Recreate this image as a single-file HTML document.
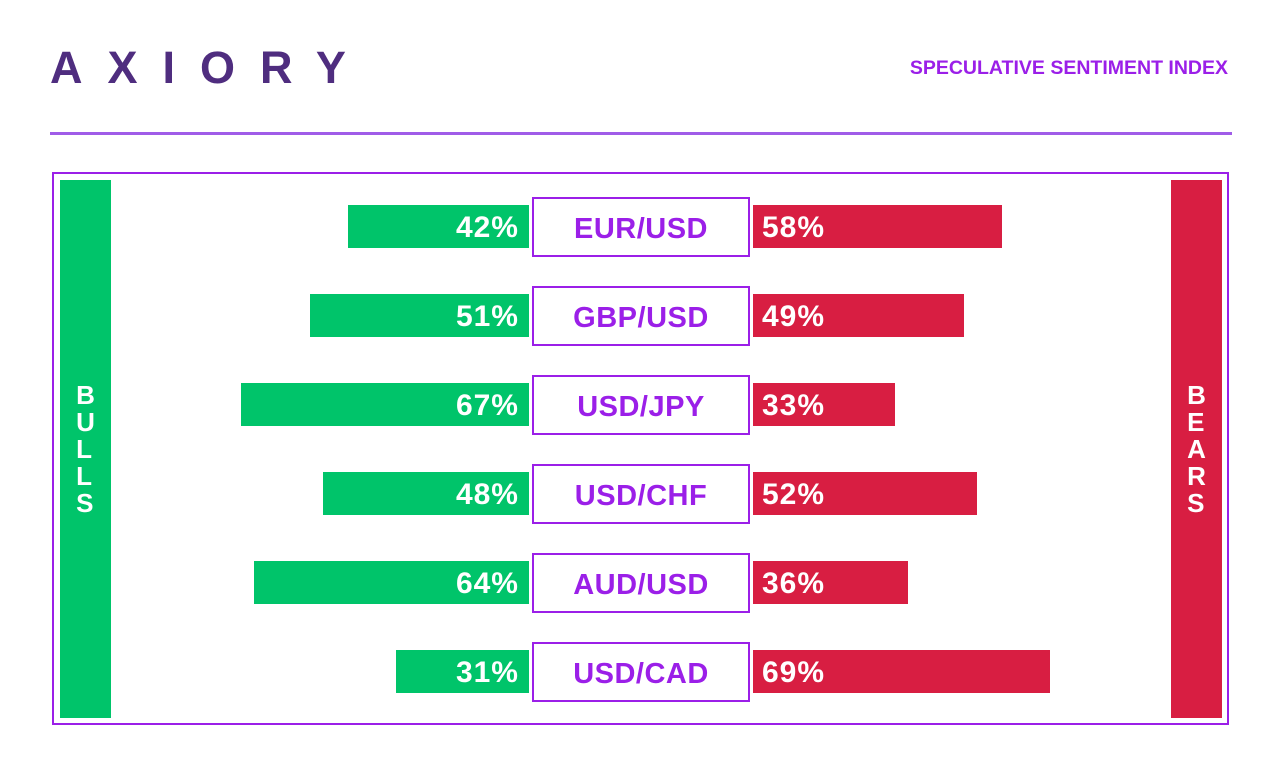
<!DOCTYPE html>
<html><head><meta charset="utf-8"><style>
body{margin:0;width:1280px;height:780px;background:#fff;position:relative;overflow:hidden;font-family:"Liberation Sans",sans-serif}
.abs{position:absolute}
</style></head><body>
<div class="abs" style="left:50px;top:40px;font-size:45px;font-weight:bold;color:#4f2d7f;letter-spacing:25px;line-height:56px">AXIORY</div>
<div class="abs" style="right:52px;top:57px;font-size:19.5px;font-weight:bold;color:#9b1fe8">SPECULATIVE SENTIMENT INDEX</div>
<div class="abs" style="left:50px;top:132px;width:1182px;height:3px;background:#a05ce8"></div>
<div class="abs" style="left:52px;top:172px;width:1173px;height:549px;border:2px solid #9b1fe8"></div>
<div class="abs" style="left:60px;top:180px;width:51px;height:538px;background:#00c46a;color:#fff;font-weight:bold;font-size:26px;display:flex;flex-direction:column;align-items:center;justify-content:center;line-height:27px">B<br>U<br>L<br>L<br>S</div>
<div class="abs" style="left:1171px;top:180px;width:51px;height:538px;background:#d81e42;color:#fff;font-weight:bold;font-size:26px;display:flex;flex-direction:column;align-items:center;justify-content:center;line-height:27px">B<br>E<br>A<br>R<br>S</div>
<div id="rows"></div>
<script>
const pairs=["EUR/USD","GBP/USD","USD/JPY","USD/CHF","AUD/USD","USD/CAD"];
const bulls=[42,51,67,48,64,31];
const bears=[58,49,33,52,36,69];
const px=v=>v*4.3;
const rowY=i=>197+i*89;
const root=document.getElementById('rows');
pairs.forEach((p,i)=>{
 const y=rowY(i);
 const g=document.createElement('div');
 
 
 const w=px(bulls[i]);
 g.style.cssText=`position:absolute;left:${529-w}px;top:${y+8}px;width:${w}px;height:43px;background:#00c46a;color:#fff;font-weight:bold;font-size:30px;line-height:45px;text-align:right;box-sizing:border-box;padding-right:10px;letter-spacing:1px`;
 g.textContent=bulls[i]+'%';
 root.appendChild(g);
 const l=document.createElement('div');
 
 
 l.style.cssText=`position:absolute;left:532px;top:${y}px;width:214px;height:56px;border:2px solid #9b1fe8;color:#9b1fe8;font-weight:bold;font-size:29px;line-height:60px;text-align:center;letter-spacing:0.5px`;
 l.textContent=p;
 root.appendChild(l);
 const r=document.createElement('div');
 
 
 const w2=px(bears[i]);
 r.style.cssText=`position:absolute;left:753px;top:${y+8}px;width:${w2}px;height:43px;background:#d81e42;color:#fff;font-weight:bold;font-size:30px;line-height:45px;box-sizing:border-box;padding-left:9px;white-space:nowrap;letter-spacing:1px`;
 r.textContent=bears[i]+'%';
 root.appendChild(r);
});
</script>
</body></html>
